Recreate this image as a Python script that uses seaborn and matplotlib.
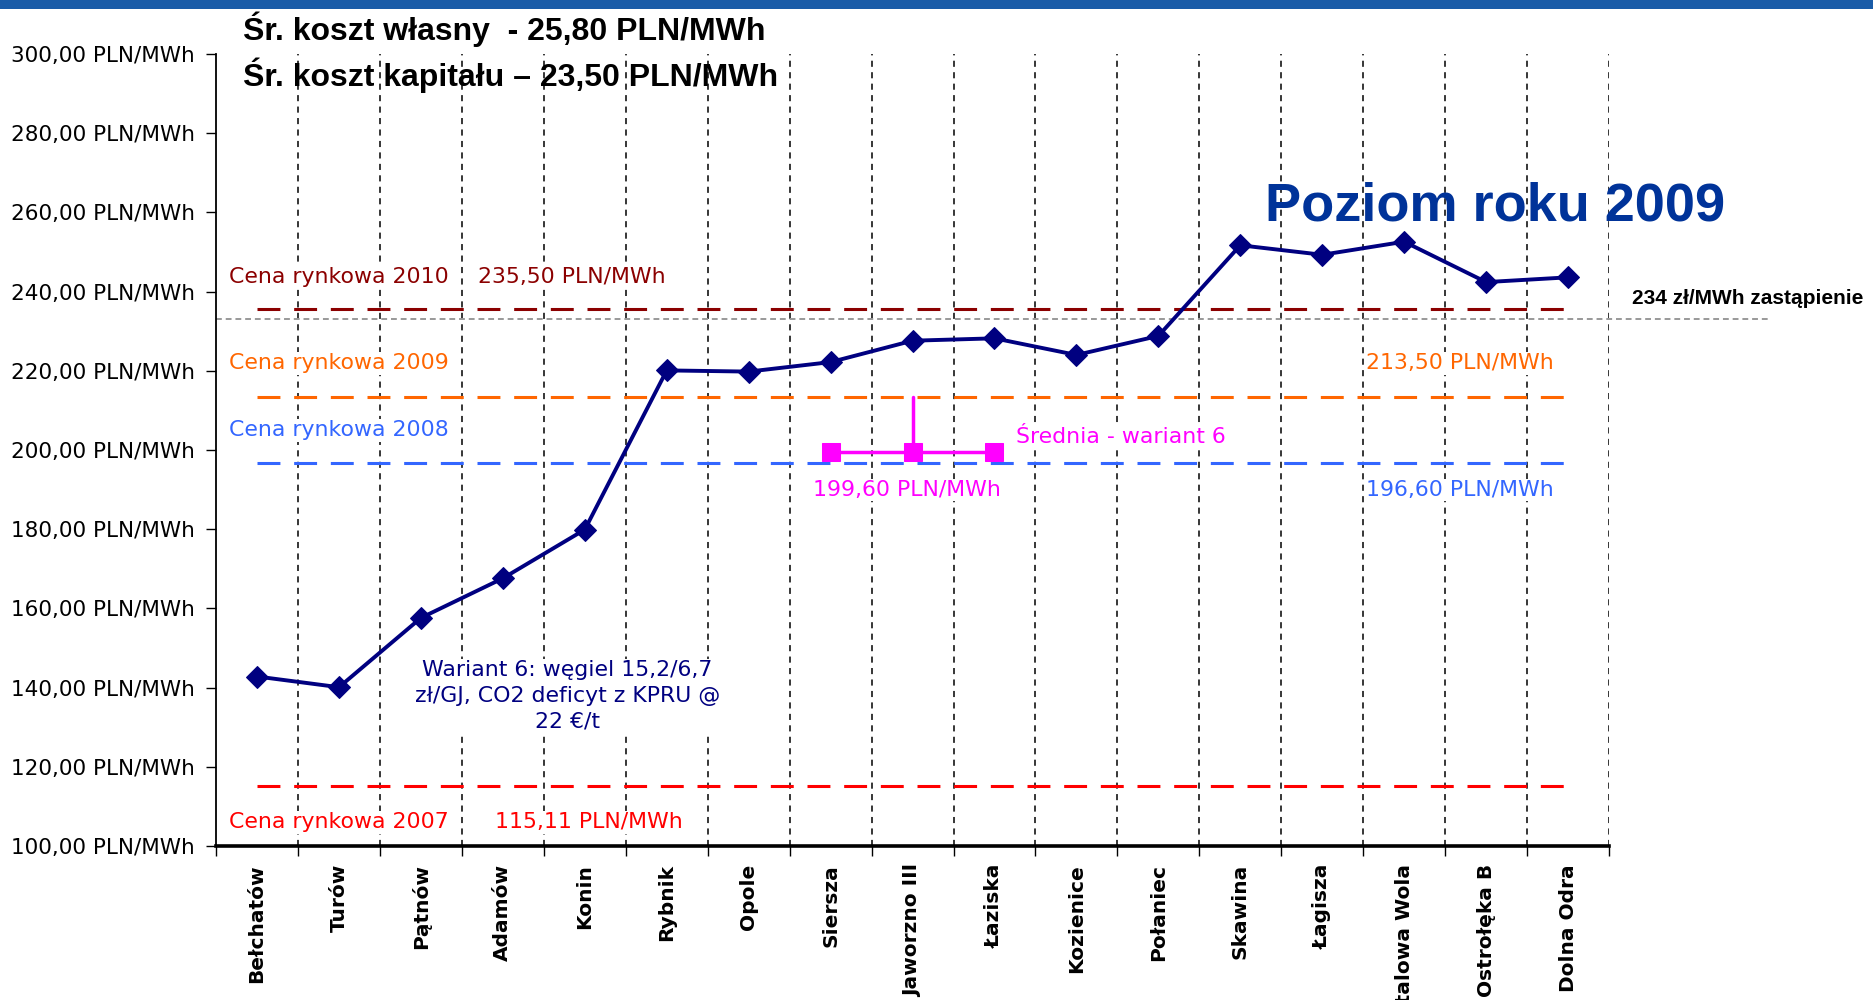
import matplotlib
matplotlib.use('Agg')
from matplotlib import pyplot as plt
from matplotlib.patches import Rectangle
from matplotlib.ticker import FuncFormatter
import pandas as pd
import seaborn as sns

plants = ['Bełchatów', 'Turów', 'Pątnów', 'Adamów', 'Konin', 'Rybnik', 'Opole',
          'Siersza', 'Jaworzno III', 'Łaziska', 'Kozienice', 'Połaniec', 'Skawina',
          'Łagisza', 'Stalowa Wola', 'Ostrołęka B', 'Dolna Odra']
cost = [142.8, 140.1, 157.6, 167.6, 179.9, 220.1, 219.8, 222.2, 227.6, 228.2,
        224.0, 228.8, 251.7, 249.3, 252.6, 242.4, 243.6]

price_years = ['2010', '2009', '2008', '2007']
price_values = [235.50, 213.50, 196.60, 115.11]
price_labels = ['235,50 PLN/MWh', '213,50 PLN/MWh', '196,60 PLN/MWh', '115,11 PLN/MWh']
price_colors = ['#8b0000', '#ff6600', '#3366ff', '#ff0000']

mean_plants = ['Siersza', 'Jaworzno III', 'Łaziska']
mean_value = 199.60
replacement = 233.0

sns.set_style('white')
plt.rcParams['font.family'] = ['DejaVu Sans']
plt.rcParams['text.color'] = 'black'
plt.rcParams['xtick.color'] = 'black'
plt.rcParams['ytick.color'] = 'black'
plt.rcParams['axes.edgecolor'] = 'black'

df = pd.DataFrame({'plant': plants, 'cost': cost})
pos = {p: i for i, p in enumerate(plants)}

fig = plt.figure(figsize=(18.74, 10), dpi=100)
ax = fig.add_axes([0.1153, 0.154, 0.7433, 0.792])

# vertical dotted separators
for b in range(len(plants)):
    ax.axvline(b + 0.5, color='black', lw=1.1, ls=(0, (4, 3.5)), zorder=1)

# market price lines
for yr, v, lab, c in zip(price_years, price_values, price_labels, price_colors):
    ax.plot([0, len(plants) - 1], [v, v], color=c, lw=2.2, ls=(0, (7.5, 4.5)), zorder=2)

# replacement cost line (runs outside the axes)
ax.plot([-0.5, 18.46], [replacement, replacement], color='#999999', lw=1.4,
        ls=(0, (3, 2)), clip_on=False, zorder=2)

sns.lineplot(data=df, x='plant', y='cost', color='#000080', lw=2.8, marker='D',
             markersize=11, markeredgecolor='#000080', sort=False, ax=ax, zorder=5)

# average of variant 6
mdf = pd.DataFrame({'plant': [pos[p] for p in mean_plants],
                    'v': [mean_value] * len(mean_plants)})
sns.lineplot(data=mdf, x='plant', y='v', color='#ff00ff', lw=2.5, marker='s',
             markersize=13, markeredgecolor='#ff00ff', ax=ax, zorder=4)
ax.plot([pos['Jaworzno III']] * 2, [mean_value, price_values[1]], color='#ff00ff',
        lw=2.5, zorder=4)

ax.set_xlim(-0.5, len(plants) - 0.5)
ax.set_ylim(100, 300)
ax.set_yticks(range(100, 301, 20))
ax.yaxis.set_major_formatter(FuncFormatter(lambda v, _: f'{v:.2f}'.replace('.', ',') + ' PLN/MWh'))
ax.set_xticks([i - 0.5 for i in range(len(plants) + 1)])
ax.set_xticklabels([])
ax.set_xticks(range(len(plants)), minor=True)
ax.set_xticklabels(plants, minor=True, rotation=90, va='top', fontsize=14.5,
                   fontweight='bold')
ax.tick_params(axis='x', which='minor', length=0, pad=13)
ax.tick_params(axis='x', which='major', length=7, width=1, direction='out', bottom=True)
ax.tick_params(axis='y', length=7, width=1, direction='out', left=True, labelsize=15.5,
               pad=8)
ax.set_xlabel('')
ax.set_ylabel('')
for s in ['top', 'right']:
    ax.spines[s].set_visible(False)
ax.spines['left'].set_linewidth(1.3)
ax.spines['bottom'].set_linewidth(2.6)
ax.grid(False)

wb = dict(facecolor='white', edgecolor='none', pad=1)
fs = 15.8
ax.text(-0.34, 243.6, 'Cena rynkowa 2010', color=price_colors[0], fontsize=fs, va='center', bbox=wb)
ax.text(2.70, 243.6, price_labels[0], color=price_colors[0], fontsize=fs, va='center', bbox=wb)
ax.text(-0.34, 221.9, 'Cena rynkowa 2009', color=price_colors[1], fontsize=fs, va='center', bbox=wb)
ax.text(13.54, 221.9, price_labels[1], color=price_colors[1], fontsize=fs, va='center', bbox=wb)
ax.text(-0.34, 205.0, 'Cena rynkowa 2008', color=price_colors[2], fontsize=fs, va='center', bbox=wb)
ax.text(13.54, 189.9, price_labels[2], color=price_colors[2], fontsize=fs, va='center', bbox=wb)
ax.text(-0.34, 106.0, 'Cena rynkowa 2007', color=price_colors[3], fontsize=fs, va='center', bbox=wb)
ax.text(2.90, 106.0, price_labels[3], color=price_colors[3], fontsize=fs, va='center', bbox=wb)
ax.text(6.78, 189.9, '199,60 PLN/MWh', color='#ff00ff', fontsize=fs, va='center', bbox=wb)
ax.text(9.26, 203.2, 'Średnia - wariant 6', color='#ff00ff', fontsize=fs, va='center', bbox=wb)
ax.text(3.79, 138.0, 'Wariant 6: węgiel 15,2/6,7\nzł/GJ, CO2 deficyt z KPRU @\n22 €/t',
        color='#000080', fontsize=fs, ha='center', va='center', linespacing=1.35, bbox=wb)

bold_sans = ['Liberation Sans', 'DejaVu Sans']
ax.text(12.30, 261.5, 'Poziom roku 2009', color='#003399', fontsize=39,
        fontweight='bold', family=bold_sans, va='center')
ax.text(16.78, 238.2, '234 zł/MWh zastąpienie', color='black', fontsize=15,
        fontweight='bold', family=bold_sans, va='center', clip_on=False)

fig.text(0.1297, 0.971, 'Śr. koszt własny  - 25,80 PLN/MWh', fontsize=23,
         fontweight='bold', family=bold_sans, va='center')
fig.text(0.1297, 0.925, 'Śr. koszt kapitału – 23,50 PLN/MWh', fontsize=23,
         fontweight='bold', family=bold_sans, va='center')

fig.patches.append(Rectangle((0, 0.991), 1, 0.009, transform=fig.transFigure,
                             facecolor='#1a5ca8', edgecolor='none'))

fig.savefig('out.png', dpi=100)
